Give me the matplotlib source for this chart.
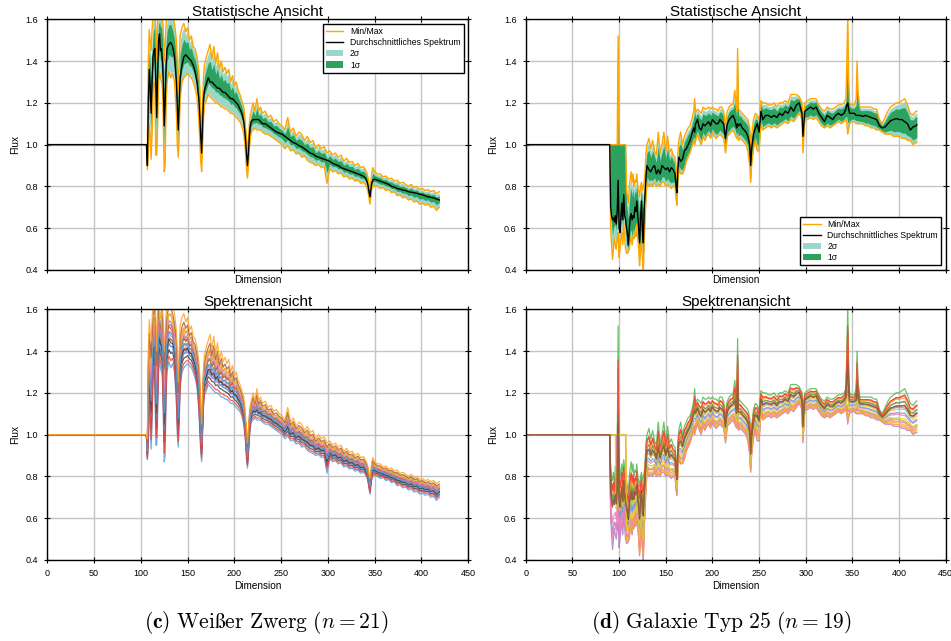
import numpy as np
import matplotlib
matplotlib.use("Agg")
import matplotlib.pyplot as plt
from matplotlib.lines import Line2D
from matplotlib.patches import Patch

# ---------------- Weisser Zwerg (n = 21) ----------------
WD_DIM = [0, 106, 107, 108, 109, 110, 111, 112, 113, 114,
          115, 116, 117, 118, 119, 120, 121, 122, 123, 124,
          125, 126, 127, 128, 130, 132, 134, 136, 138, 139,
          140, 141, 142, 144, 146, 148, 150, 152, 154, 156,
          158, 160, 162, 163, 164, 165, 166, 167, 168, 170,
          172, 174, 176, 178, 180, 182, 184, 186, 188, 190,
          192, 194, 196, 198, 200, 202, 204, 206, 208, 210,
          211, 212, 213, 214, 215, 216, 217, 218, 220, 222,
          224, 226, 228, 230, 233, 236, 239, 242, 245, 248,
          251, 254, 257, 260, 263, 266, 269, 272, 275, 278,
          281, 284, 287, 290, 293, 296, 299, 302, 305, 308,
          311, 314, 317, 320, 323, 326, 329, 332, 335, 338,
          340, 342, 343, 344, 345, 346, 347, 348, 350, 353,
          356, 359, 362, 365, 368, 371, 374, 377, 380, 383,
          386, 389, 392, 395, 398, 401, 404, 407, 410, 413, 416, 419]
WD_MEAN = [1.0, 1.0, 0.90, 1.20, 1.36, 1.28, 1.15, 1.30, 1.42, 1.45,
           1.46, 1.30, 1.13, 1.35, 1.50, 1.53, 1.45, 1.46, 1.40, 1.30,
           1.09, 1.20, 1.38, 1.46, 1.48, 1.49, 1.47, 1.42, 1.30, 1.18,
           1.07, 1.20, 1.32, 1.38, 1.42, 1.43, 1.42, 1.41, 1.40, 1.38,
           1.35, 1.30, 1.22, 1.14, 1.04, 0.96, 1.10, 1.22, 1.26, 1.29,
           1.32, 1.30, 1.30, 1.29, 1.28, 1.27, 1.27, 1.26, 1.25, 1.25,
           1.24, 1.23, 1.22, 1.22, 1.21, 1.20, 1.19, 1.17, 1.15, 1.11,
           1.07, 1.02, 0.95, 0.90, 0.96, 1.04, 1.09, 1.11, 1.12, 1.12,
           1.12, 1.12, 1.11, 1.10, 1.10, 1.09, 1.08, 1.07, 1.06, 1.055,
           1.05, 1.04, 1.03, 1.02, 1.01, 1.005, 0.995, 0.99, 0.98, 0.97,
           0.96, 0.955, 0.945, 0.94, 0.935, 0.93, 0.925, 0.92, 0.91, 0.905,
           0.90, 0.89, 0.885, 0.88, 0.875, 0.87, 0.865, 0.86, 0.855, 0.848,
           0.84, 0.82, 0.80, 0.77, 0.75, 0.79, 0.82, 0.83, 0.835, 0.83,
           0.825, 0.82, 0.815, 0.81, 0.80, 0.797, 0.79, 0.787, 0.783, 0.78,
           0.775, 0.772, 0.77, 0.767, 0.763, 0.76, 0.755, 0.75, 0.748, 0.745, 0.74, 0.735]
WD_HI = [1.0, 1.0, 0.98, 1.40, 1.55, 1.50, 1.45, 1.55, 1.62, 1.65,
         1.65, 1.55, 1.40, 1.60, 1.66, 1.66, 1.66, 1.66, 1.62, 1.55,
         1.40, 1.48, 1.58, 1.62, 1.66, 1.66, 1.62, 1.58, 1.50, 1.40,
         1.25, 1.38, 1.52, 1.56, 1.58, 1.54, 1.56, 1.50, 1.52, 1.47,
         1.46, 1.42, 1.35, 1.28, 1.15, 1.05, 1.20, 1.32, 1.38, 1.42,
         1.45, 1.48, 1.41, 1.47, 1.39, 1.44, 1.36, 1.40, 1.35, 1.37,
         1.34, 1.36, 1.30, 1.33, 1.28, 1.30, 1.26, 1.24, 1.21, 1.18,
         1.14, 1.08, 1.02, 0.96, 1.03, 1.10, 1.14, 1.16, 1.20, 1.16,
         1.22, 1.16, 1.18, 1.15, 1.16, 1.13, 1.14, 1.11, 1.12, 1.10,
         1.09, 1.07, 1.13, 1.06, 1.08, 1.04, 1.06, 1.05, 1.02, 1.04,
         1.01, 1.02, 0.98, 1.00, 0.98, 0.99, 0.96, 0.97, 0.95, 0.96,
         0.94, 0.95, 0.92, 0.935, 0.915, 0.92, 0.90, 0.91, 0.89, 0.895,
         0.88, 0.86, 0.84, 0.81, 0.79, 0.83, 0.87, 0.89, 0.87, 0.86,
         0.86, 0.845, 0.85, 0.835, 0.84, 0.825, 0.83, 0.815, 0.82, 0.81,
         0.80, 0.81, 0.795, 0.80, 0.785, 0.79, 0.78, 0.785, 0.775, 0.78, 0.765, 0.775]
WD_LO = [1.0, 1.0, 0.88, 0.95, 1.10, 1.05, 0.93, 1.05, 1.25, 1.30,
         1.28, 0.95, 0.95, 1.10, 1.30, 1.35, 1.32, 1.30, 1.28, 1.10,
         0.87, 0.90, 1.20, 1.30, 1.35, 1.32, 1.34, 1.30, 1.15, 1.00,
         0.94, 1.05, 1.22, 1.30, 1.32, 1.33, 1.34, 1.33, 1.32, 1.30,
         1.27, 1.23, 1.12, 1.02, 0.92, 0.87, 1.00, 1.13, 1.19, 1.21,
         1.24, 1.23, 1.22, 1.21, 1.20, 1.20, 1.19, 1.18, 1.18, 1.17,
         1.17, 1.16, 1.15, 1.15, 1.14, 1.13, 1.12, 1.11, 1.09, 1.05,
         1.01, 0.96, 0.88, 0.84, 0.90, 0.98, 1.03, 1.06, 1.07, 1.08,
         1.07, 1.07, 1.07, 1.06, 1.05, 1.05, 1.04, 1.03, 1.02, 1.01,
         1.00, 0.98, 0.995, 0.97, 0.975, 0.955, 0.96, 0.94, 0.945, 0.925,
         0.915, 0.91, 0.90, 0.905, 0.89, 0.895, 0.815, 0.885, 0.87, 0.875,
         0.86, 0.865, 0.845, 0.85, 0.835, 0.84, 0.825, 0.83, 0.815, 0.82,
         0.81, 0.79, 0.77, 0.74, 0.715, 0.76, 0.79, 0.80, 0.805, 0.80,
         0.79, 0.795, 0.78, 0.785, 0.77, 0.775, 0.755, 0.76, 0.745, 0.75,
         0.735, 0.74, 0.725, 0.73, 0.715, 0.72, 0.71, 0.715, 0.70, 0.705, 0.685, 0.70]
# Lage jedes Einzelspektrums zwischen Mittel und Max (a) bzw. Min (b)
WD_A = [0.6, 0.0, 0.3, 0.1, 0.2, 0.4, 0.3, 0.1, 0.5, 0.2, 0.4,
        0.2, 0.7, 0.5, 0.1, 0.6, 0.3, 0.0, 0.4, 0.8, 1.0]
WD_B = [0.1, 1.0, 0.3, 0.5, 0.4, 0.2, 0.5, 0.7, 0.4, 0.6, 0.1,
        0.2, 0.2, 0.0, 0.3, 0.3, 0.6, 0.8, 0.5, 0.1, 0.0]
WD_COLORS = ["red", "blue", "green", "purple", "yellow", "brown", "pink", "gray",
             "red", "blue", "green", "purple", "orange", "yellow", "brown", "pink",
             "gray", "red", "blue", "brown", "orange"]

# ---------------- Galaxie Typ 25 (n = 19) ----------------
GAL_DIM = [0, 90, 91, 92, 93, 94, 95, 96, 97, 98,
           99, 100, 101, 102, 103, 104, 105, 106, 107, 108,
           109, 110, 111, 112, 113, 114, 115, 116, 117, 118,
           119, 120, 121, 122, 123, 124, 125, 126, 127, 128,
           129, 130, 132, 134, 136, 138, 140, 142, 144, 146,
           148, 150, 152, 154, 156, 158, 160, 161, 162, 163,
           164, 166, 168, 170, 172, 174, 176, 178, 180, 181,
           182, 184, 186, 188, 190, 192, 194, 196, 198, 200,
           202, 204, 206, 208, 210, 212, 213, 214, 215, 216,
           218, 220, 222, 224, 226, 227, 228, 230, 232, 234,
           236, 238, 240, 241, 242, 244, 246, 248, 250, 252,
           254, 257, 260, 263, 266, 269, 272, 275, 278, 281,
           284, 287, 290, 293, 296, 297, 298, 299, 302, 305,
           308, 311, 314, 317, 320, 323, 326, 329, 332, 335,
           338, 341, 343, 344, 345, 346, 347, 349, 352, 354,
           355, 356, 358, 361, 364, 367, 370, 373, 376, 379,
           382, 385, 388, 391, 394, 397, 400, 403, 406, 409, 412, 415, 418, 419]
GAL_MEAN = [1.0, 1.0, 0.70, 0.66, 0.64, 0.65, 0.63, 0.66, 0.62, 0.68,
            0.83, 0.60, 0.58, 0.66, 0.72, 0.64, 0.76, 0.66, 0.64, 0.60,
            0.57, 0.52, 0.60, 0.65, 0.67, 0.64, 0.66, 0.65, 0.70, 0.68,
            0.73, 0.66, 0.60, 0.53, 0.65, 0.73, 0.60, 0.53, 0.70, 0.78,
            0.86, 0.90, 0.88, 0.87, 0.89, 0.90, 0.86, 0.88, 0.86, 0.90,
            0.89, 0.88, 0.89, 0.87, 0.89, 0.88, 0.86, 0.80, 0.77, 0.88,
            0.94, 0.92, 0.93, 0.97, 0.98, 1.00, 1.02, 1.05, 1.08, 1.06,
            1.10, 1.12, 1.08, 1.07, 1.10, 1.09, 1.10, 1.11, 1.09, 1.12,
            1.11, 1.10, 1.10, 1.12, 1.11, 1.10, 1.06, 1.03, 1.07, 1.10,
            1.12, 1.13, 1.14, 1.12, 1.08, 1.10, 1.09, 1.10, 1.08, 1.07,
            1.06, 1.04, 1.00, 0.90, 0.98, 1.05, 1.08, 1.10, 1.06, 1.16,
            1.12, 1.14, 1.14, 1.13, 1.14, 1.13, 1.15, 1.14, 1.16, 1.15,
            1.18, 1.16, 1.19, 1.20, 1.15, 1.04, 1.10, 1.16, 1.17, 1.18,
            1.17, 1.18, 1.15, 1.13, 1.11, 1.14, 1.13, 1.12, 1.14, 1.15,
            1.14, 1.15, 1.17, 1.19, 1.20, 1.17, 1.15, 1.15, 1.15, 1.14,
            1.14, 1.14, 1.14, 1.135, 1.14, 1.135, 1.13, 1.125, 1.12, 1.09,
            1.08, 1.085, 1.10, 1.115, 1.12, 1.125, 1.12, 1.12, 1.11, 1.10, 1.07, 1.085, 1.09, 1.095]
GAL_HI = [1.0, 1.0, 0.85, 0.80, 0.78, 0.82, 0.76, 0.85, 0.80, 0.90,
          1.52, 0.88, 0.80, 0.82, 0.86, 0.80, 0.88, 0.84, 0.80, 0.78,
          0.75, 0.72, 0.80, 0.84, 0.87, 0.82, 0.86, 0.80, 0.83, 0.82,
          0.86, 0.80, 0.78, 0.75, 0.80, 0.82, 0.78, 0.80, 0.82, 0.88,
          0.97, 1.00, 1.03, 0.98, 1.02, 0.97, 0.95, 1.06, 0.96, 1.00,
          1.06, 0.97, 1.04, 0.96, 0.98, 0.95, 0.94, 0.88, 0.84, 0.96,
          1.02, 1.06, 1.00, 1.04, 1.06, 1.08, 1.09, 1.12, 1.16, 1.22,
          1.15, 1.17, 1.16, 1.15, 1.18, 1.17, 1.17, 1.18, 1.17, 1.18,
          1.17, 1.17, 1.16, 1.18, 1.18, 1.16, 1.12, 1.08, 1.14, 1.16,
          1.18, 1.19, 1.19, 1.26, 1.16, 1.46, 1.17, 1.16, 1.15, 1.14,
          1.13, 1.12, 1.08, 0.96, 1.04, 1.12, 1.15, 1.14, 1.12, 1.21,
          1.20, 1.20, 1.19, 1.19, 1.20, 1.18, 1.20, 1.20, 1.21, 1.20,
          1.24, 1.24, 1.24, 1.23, 1.20, 1.08, 1.16, 1.20, 1.21, 1.22,
          1.22, 1.22, 1.19, 1.17, 1.16, 1.18, 1.17, 1.17, 1.18, 1.19,
          1.19, 1.20, 1.22, 1.40, 1.62, 1.30, 1.20, 1.19, 1.19, 1.22,
          1.40, 1.25, 1.18, 1.18, 1.18, 1.18, 1.18, 1.17, 1.17, 1.12,
          1.10, 1.13, 1.16, 1.18, 1.19, 1.20, 1.20, 1.21, 1.22, 1.19, 1.15, 1.14, 1.16, 1.16]
GAL_LO = [1.0, 1.0, 0.60, 0.52, 0.45, 0.50, 0.55, 0.52, 0.50, 0.55,
          0.58, 0.46, 0.50, 0.55, 0.58, 0.52, 0.62, 0.55, 0.50, 0.48,
          0.48, 0.49, 0.50, 0.55, 0.55, 0.52, 0.56, 0.55, 0.58, 0.56,
          0.62, 0.55, 0.50, 0.42, 0.50, 0.55, 0.45, 0.40, 0.55, 0.65,
          0.75, 0.82, 0.80, 0.81, 0.80, 0.82, 0.80, 0.81, 0.80, 0.82,
          0.82, 0.80, 0.81, 0.80, 0.79, 0.80, 0.80, 0.74, 0.71, 0.82,
          0.88, 0.86, 0.86, 0.88, 0.92, 0.94, 0.96, 0.99, 1.02, 1.00,
          1.02, 1.05, 1.02, 1.00, 1.04, 1.02, 1.04, 1.05, 1.03, 1.06,
          1.04, 1.03, 1.04, 1.05, 1.04, 1.03, 1.00, 0.96, 1.00, 1.04,
          1.05, 1.06, 1.07, 1.05, 1.03, 1.04, 1.02, 1.03, 1.02, 1.01,
          1.00, 0.97, 0.90, 0.82, 0.90, 0.98, 1.02, 0.97, 0.97, 1.10,
          1.07, 1.08, 1.09, 1.08, 1.09, 1.08, 1.09, 1.10, 1.11, 1.10,
          1.12, 1.11, 1.13, 1.15, 1.12, 0.96, 1.04, 1.12, 1.12, 1.13,
          1.12, 1.13, 1.11, 1.09, 1.08, 1.09, 1.08, 1.09, 1.10, 1.11,
          1.10, 1.11, 1.12, 1.10, 1.05, 1.08, 1.10, 1.11, 1.11, 1.10,
          1.10, 1.10, 1.10, 1.10, 1.09, 1.09, 1.08, 1.08, 1.07, 1.07,
          1.06, 1.05, 1.05, 1.05, 1.04, 1.04, 1.04, 1.03, 1.03, 1.02, 1.02, 1.00, 1.01, 1.01]
GAL_A = [0.7, 0.0, 1.0, 0.0, 0.0, 0.1, 0.2, 0.5, 0.3, 0.6,
         0.3, 0.6, 0.0, 0.1, 0.8, 0.2, 0.4, 0.4, 0.5]
GAL_B = [0.0, 0.6, 0.0, 1.0, 0.8, 0.7, 0.5, 0.1, 0.5, 0.2,
         0.2, 0.0, 0.9, 0.8, 0.1, 0.7, 0.4, 0.2, 0.3]
# erste Dimension mit Messwert (davor Flux = 1.0)
GAL_START = [91, 91, 91, 91, 108, 108, 91, 91, 100, 91,
             98, 91, 108, 91, 91, 108, 97, 91, 91]
GAL_COLORS = ["red", "blue", "green", "purple", "orange", "yellow", "pink", "red",
              "blue", "green", "purple", "orange", "orange", "pink", "red", "yellow",
              "yellow", "gray", "brown"]

PALETTE = {"red": "#f2433c", "blue": "#56a0e0", "green": "#52b84e", "purple": "#b07acb",
           "orange": "#ffa22a", "yellow": "#dcca2e", "brown": "#a5623c", "pink": "#f47fb5",
           "gray": "#404040"}
C_2SIG = "#99d8c9"
C_1SIG = "#2ca25f"

plt.rcParams["font.family"] = ["Liberation Sans", "DejaVu Sans"]
plt.rcParams["mathtext.fontset"] = "cm"


def build_spectra(dim, mean, hi, lo, wa, wb, starts=None):
    dim = np.asarray(dim, float)
    mean, hi, lo = (np.asarray(v, float) for v in (mean, hi, lo))
    out = []
    for k, (a, b) in enumerate(zip(wa, wb)):
        sp = mean + a * (hi - mean) + b * (lo - mean)
        if starts is not None:
            sp = np.where(dim < starts[k], 1.0, sp)
        out.append(sp)
    return np.array(out)


def style_axes(ax, bottom_labels):
    ax.set_xlim(0, 450)
    ax.set_ylim(0.4, 1.6)
    ax.set_xticks(np.arange(0, 451, 50))
    ax.set_yticks(np.arange(0.4, 1.61, 0.2))
    ax.grid(True, color="#c4c4c4", linewidth=1.0)
    ax.set_axisbelow(True)
    ax.tick_params(direction="inout", length=5, width=0.8, top=True, right=True,
                   labelsize=6.5, pad=4, labelbottom=bottom_labels)
    for s in ax.spines.values():
        s.set_linewidth(1.0)
    ax.set_ylabel("Flux", fontsize=7.2, labelpad=4)
    ax.set_xlabel("Dimension", fontsize=7.2, labelpad=1 if not bottom_labels else 2)


def stat_panel(ax, dim, mean, spectra, legend_loc):
    lo2, lo1, hi1, hi2 = np.percentile(spectra, [2.28, 15.87, 84.13, 97.72], axis=0)
    ax.fill_between(dim, lo2, hi2, color=C_2SIG, linewidth=0)
    ax.fill_between(dim, lo1, hi1, color=C_1SIG, linewidth=0)
    ax.plot(dim, spectra.max(axis=0), color="orange", lw=1.0)
    ax.plot(dim, spectra.min(axis=0), color="orange", lw=1.0)
    ax.plot(dim, mean, color="black", lw=1.0)
    ax.set_title("Statistische Ansicht", fontsize=11, pad=2.4)
    handles = [Line2D([], [], color="orange", lw=1.0),
               Line2D([], [], color="black", lw=1.0),
               Patch(facecolor=C_2SIG, edgecolor="none"),
               Patch(facecolor=C_1SIG, edgecolor="none")]
    labels = ["Min/Max", "Durchschnittliches Spektrum", "2σ", "1σ"]
    leg = ax.legend(handles, labels, loc=legend_loc, fontsize=6.2, fancybox=False,
                    framealpha=1, edgecolor="black", borderaxespad=0.55,
                    handlelength=2.0, handletextpad=0.8, labelspacing=0.25,
                    borderpad=0.35)
    leg.get_frame().set_linewidth(1.0)
    style_axes(ax, False)


def spec_panel(ax, dim, spectra, colors):
    for sp, c in zip(spectra, colors):
        ax.plot(dim, sp, color=PALETTE[c], lw=0.9, alpha=0.85)
    ax.set_title("Spektrenansicht", fontsize=11, pad=2.4)
    style_axes(ax, True)


fig = plt.figure(figsize=(9.51, 6.41), dpi=100)
ax_wd_top = fig.add_axes([0.0497, 0.5788, 0.4427, 0.3911])
ax_wd_bot = fig.add_axes([0.0497, 0.1264, 0.4427, 0.3911])
ax_gal_top = fig.add_axes([0.5528, 0.5788, 0.4417, 0.3911])
ax_gal_bot = fig.add_axes([0.5528, 0.1264, 0.4417, 0.3911])

wd_spec = build_spectra(WD_DIM, WD_MEAN, WD_HI, WD_LO, WD_A, WD_B)
gal_spec = build_spectra(GAL_DIM, GAL_MEAN, GAL_HI, GAL_LO, GAL_A, GAL_B, GAL_START)

stat_panel(ax_wd_top, WD_DIM, WD_MEAN, wd_spec, "upper right")
spec_panel(ax_wd_bot, WD_DIM, wd_spec, WD_COLORS)
stat_panel(ax_gal_top, GAL_DIM, GAL_MEAN, gal_spec, "lower right")
spec_panel(ax_gal_bot, GAL_DIM, gal_spec, GAL_COLORS)

# Unterschriften im LaTeX-Stil (Computer Modern ueber mathtext)
fig.text(0.2803, 0.029, r"$\mathbf{(c)}\ \mathrm{Weißer\ Zwerg}\ (n = 21)$",
         ha="center", va="center", fontsize=15.5)
fig.text(0.7587, 0.029, r"$\mathbf{(d)}\ \mathrm{Galaxie\ Typ\ 25}\ (n = 19)$",
         ha="center", va="center", fontsize=15.5)

fig.savefig("out.png", dpi=100)
